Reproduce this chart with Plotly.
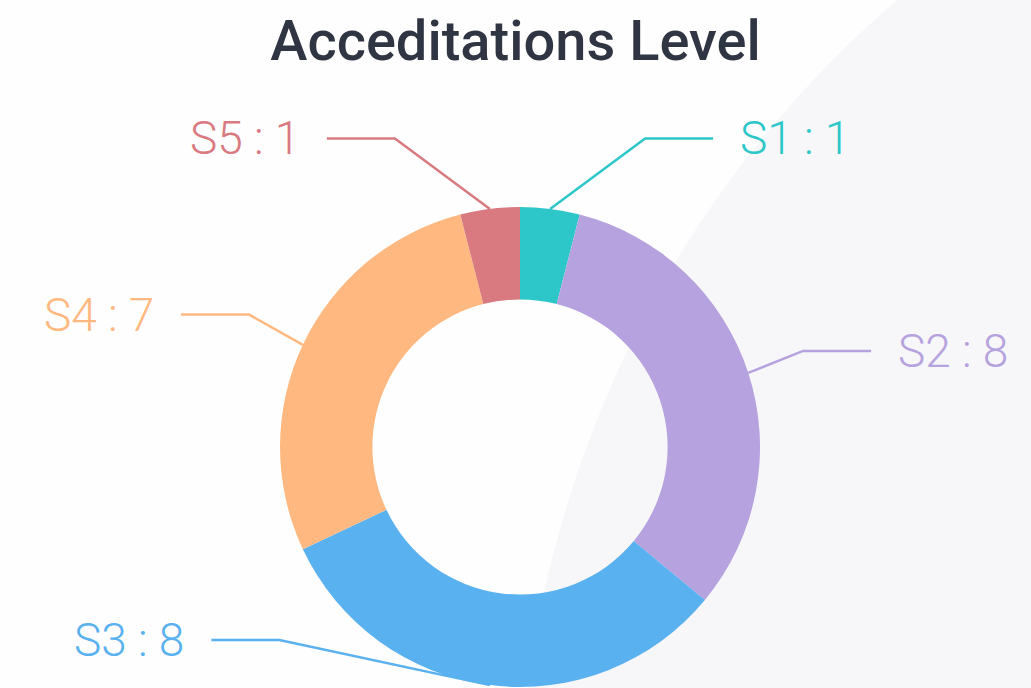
import math
import plotly.graph_objects as go

# ---- data ----
labels = ["S1", "S2", "S3", "S4", "S5"]
values = [1, 8, 8, 7, 1]
colors = ["#2ec7c9", "#b6a2de", "#5ab1ef", "#ffb980", "#d87a80"]
title_text = "Acceditations Level"

# ---- layout constants (pixels) ----
W, H = 1031, 688
CX, CY, R = 520, 447, 240          # donut centre and outer radius
HOLE = 0.615
RY = 311                           # vertical reach of label rows
D = 364                            # radius of label line ends
L2 = 68                            # horizontal leg length
GAP = 25                           # gap between line end and text
YMIN, YMAX = 60, 640               # label row limits


def px(x):
    return x / W


def py(y):
    return 1 - y / H


fig = go.Figure()
fig.add_trace(go.Pie(
    labels=labels, values=values, sort=False, direction="clockwise", rotation=0,
    hole=HOLE, textinfo="none", hoverinfo="label+value",
    marker=dict(colors=colors, line=dict(width=0)),
    domain=dict(x=[px(CX - R), px(CX + R)], y=[py(CY + R), py(CY - R)]),
    showlegend=False,
))

shapes = []
annotations = []

# subtle background sweep
shapes.append(dict(type="circle", xref="paper", yref="paper", layer="below",
                   x0=px(1600 - 1080), x1=px(1600 + 1080), y0=py(820 + 1080), y1=py(820 - 1080),
                   fillcolor="#f7f7f9", line=dict(width=0)))

total = sum(values)
cum = 0.0
for lab, val, col in zip(labels, values, colors):
    mid = (cum + val / 2) / total
    cum += val
    th = 2 * math.pi * mid
    s, c = math.sin(th), math.cos(th)
    ax, ay = CX + R * s, CY - R * c
    ly = min(max(CY - RY * c, YMIN), YMAX)
    d = 1 if s >= 0 else -1
    dx = math.sqrt(max(D * D - (ly - CY) ** 2, 0))
    ex = CX + d * dx
    bx = ex - d * L2
    path = f"M {px(ax)} {py(ay)} L {px(bx)} {py(ly)} L {px(ex)} {py(ly)}"
    shapes.append(dict(type="path", xref="paper", yref="paper", path=path,
                       line=dict(color=col, width=2.5)))
    annotations.append(dict(
        x=px(ex + d * GAP), y=py(ly), xref="paper", yref="paper",
        text=f"{lab} : {val}", showarrow=False,
        xanchor="left" if d > 0 else "right", yanchor="middle",
        font=dict(family="Roboto, sans-serif", size=46, color=col, weight=300),
    ))

fig.update_layout(
    width=W, height=H,
    margin=dict(l=0, r=0, t=0, b=0),
    paper_bgcolor="#fefefe", plot_bgcolor="#fefefe",
    title=dict(text=title_text, x=0.5, xanchor="center", y=py(40), yanchor="middle",
               font=dict(family="Roboto, sans-serif", size=56, color="#2f3542", weight=500)),
    shapes=shapes, annotations=annotations,
)

fig.write_html("out.html", config={"displayModeBar": False},
               post_script="document.body.style.margin='0';")
